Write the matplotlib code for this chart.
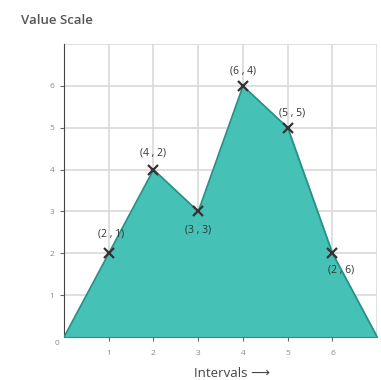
import matplotlib
matplotlib.use("Agg")
import matplotlib.pyplot as plt

plt.rcParams["font.family"] = ["Open Sans", "DejaVu Sans"]

# data
intervals = [0, 1, 2, 3, 4, 5, 6, 7]
values = [0, 2, 4, 3, 6, 5, 2, 0]
point_labels = ["(2 , 1)", "(4 , 2)", "(3 , 3)", "(6 , 4)", "(5 , 5)", "(2 , 6)"]
label_offsets = [(2, 14), (0, 12), (0, -13), (0, 11), (3, 11), (6, -12)]

FILL = "#45c1b6"
EDGE = "#2b8f87"
DARK = "#333333"
GRID = "#d9d9d9"

fig = plt.figure(figsize=(3.81, 3.80), dpi=100)
ax = fig.add_axes([0.168, 0.113, 0.822, 0.771])

ax.fill_between(intervals, values, color=FILL, zorder=2)
ax.plot(intervals, values, color=EDGE, linewidth=1.2, zorder=3)
ax.plot(intervals[1:-1], values[1:-1], linestyle="none", marker="x",
        markersize=6.5, markeredgewidth=1.6, color=DARK, zorder=4)

for x, y, txt, off in zip(intervals[1:-1], values[1:-1], point_labels, label_offsets):
    ax.annotate(txt, (x, y), xytext=off, textcoords="offset points",
                ha="center", va="center", fontsize=7.5, color=DARK)

ax.set_xlim(0, 7)
ax.set_ylim(0, 7)
ax.set_xticks(range(1, 7))
ax.set_yticks(range(1, 7))
ax.set_xticks(range(0, 8), minor=True)
ax.set_yticks(range(0, 8), minor=True)
ax.set_axisbelow(True)
ax.grid(True, which="both", color=GRID, linewidth=1.2)
ax.tick_params(axis="both", which="major", labelsize=6, labelcolor="#8a8a8a",
               color="#666666", length=3, width=0.8)
ax.tick_params(axis="x", pad=6)
ax.tick_params(axis="y", pad=4)
ax.tick_params(axis="both", which="minor", length=0)
ax.text(-0.1, -0.08, "0", ha="right", va="top", fontsize=6, color="#8a8a8a")

for s in ("top", "right"):
    ax.spines[s].set_visible(False)
ax.spines["left"].set_color("#444444")
ax.spines["bottom"].set_color(EDGE)

fig.text(0.055, 0.945, "Value Scale", fontsize=9.5, color="#555555",
         fontweight="semibold", ha="left", va="center")
fig.text(0.61, 0.018, "Intervals \u27f6", fontsize=9.5, color="#444444",
         ha="center", va="center")

fig.savefig("out.png", dpi=100)
